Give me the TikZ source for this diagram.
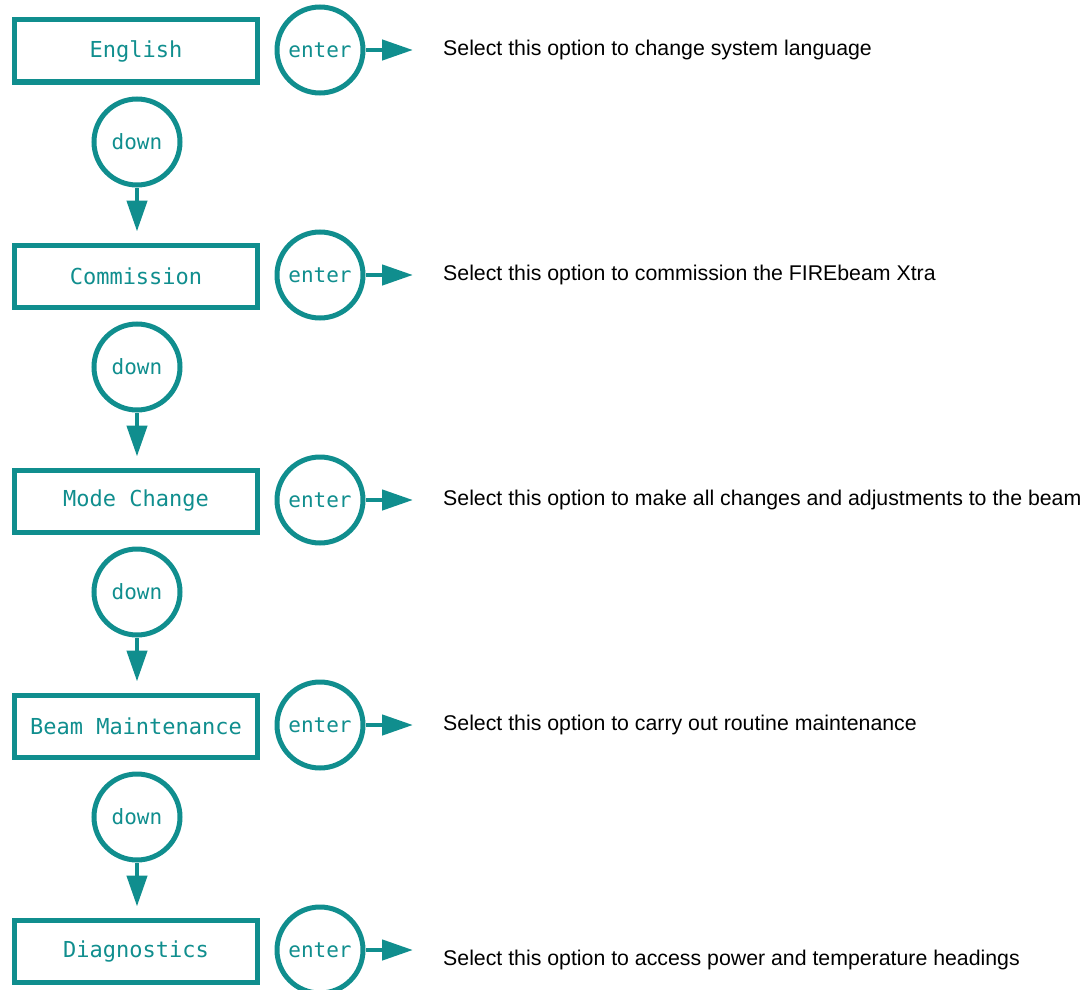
\documentclass[tikz,border=0pt]{standalone}
\usepackage{fontspec}
\setmainfont{Liberation Sans}
\newfontfamily\monofnt{DejaVu Sans Mono}
\usetikzlibrary{arrows.meta}
\definecolor{teal1}{RGB}{16,142,142}
\tikzset{
  menubox/.style={draw=teal1, line width=5pt, minimum width=243pt, minimum height=62pt, inner sep=0pt,
    text=teal1, font=\monofnt\fontsize{22}{26}\selectfont},
  keycirc/.style={draw=teal1, circle, line width=5pt, minimum size=86pt, inner sep=0pt,
    text=teal1, font=\monofnt\fontsize{21}{25}\selectfont},
  flow/.style={draw=teal1, line width=4.5pt, -{Triangle[length=31pt,width=20pt]}},
  desc/.style={anchor=west, inner sep=0pt, font=\fontsize{21.3}{25}\selectfont}
}
\begin{document}
\begin{tikzpicture}[x=1pt,y=-1pt]
\useasboundingbox (0,0) rectangle (1087,990);
\foreach \i/\lab/\txt/\ty in {
  1/English/{Select this option to change system language}/50,
  2/Commission/{Select this option to commission the FIREbeam Xtra}/275,
  3/Mode Change/{Select this option to make all changes and adjustments to the beam}/500,
  4/Beam Maintenance/{Select this option to carry out routine maintenance}/725,
  5/Diagnostics/{Select this option to access power and temperature headings}/960}{
  \pgfmathsetmacro\yy{50+225*(\i-1)}
  \node[menubox] (b\i) at (136,\yy+1) {\lab};
  \node[keycirc] (e\i) at (320,\yy) {enter};
  \coordinate (t\i) at (413,\yy);
  \draw[flow] (e\i) -- (t\i);
  \node[desc] (d\i) at (443,\ty) {\txt};
}
\foreach \i [evaluate=\i as \j using int(\i+1)] in {1,2,3,4}{
  \pgfmathsetmacro\yy{50+225*(\i-1)+92}
  \node[keycirc] (c\i) at (137,\yy) {down};
  \draw[flow, shorten >=11pt] (c\i) -- (c\i |- b\j.north);
}
\end{tikzpicture}
\end{document}
